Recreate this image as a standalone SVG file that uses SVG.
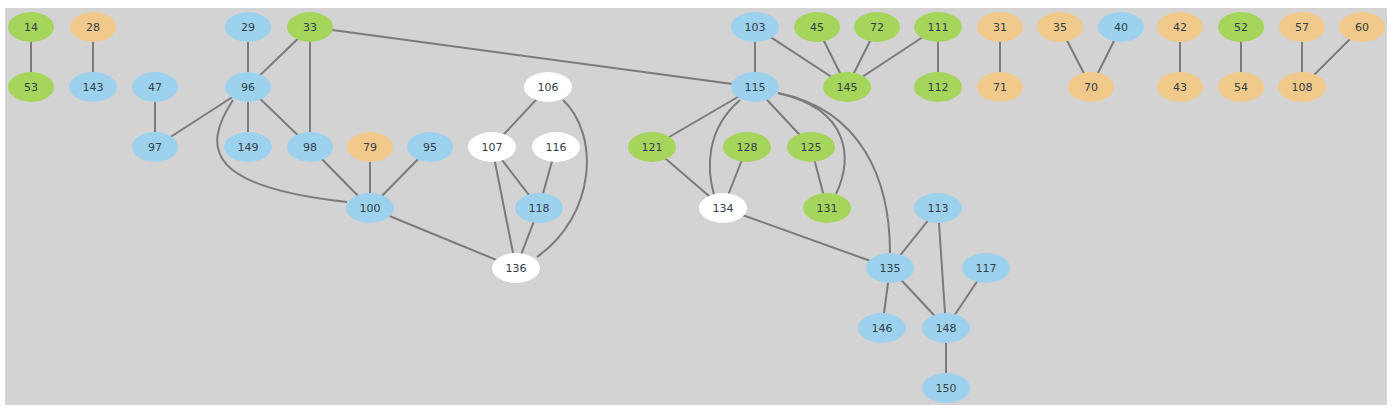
<svg xmlns="http://www.w3.org/2000/svg" width="1400" height="417" viewBox="0 0 1400 417">
<style>
.e{stroke:#7a7a7a;stroke-width:2;fill:none}
.n ellipse{stroke:none}
.g{fill:#a5d55b}.o{fill:#f1c98b}.b{fill:#9dd2ef}.w{fill:#ffffff}
text{font-family:"DejaVu Sans",Verdana,sans-serif;font-size:11px;fill:#333d48;text-anchor:middle;dominant-baseline:central}
</style>
<rect x="0" y="0" width="1400" height="417" fill="#ffffff"/>
<rect x="5" y="8" width="1382" height="397" fill="#d3d3d3"/>
<g id="edges">
<line class="e" x1="31" y1="27" x2="31" y2="87"/>
<line class="e" x1="93" y1="27" x2="93" y2="87"/>
<line class="e" x1="248" y1="27" x2="248" y2="87"/>
<line class="e" x1="310" y1="27" x2="248" y2="87"/>
<line class="e" x1="310" y1="27" x2="310" y2="147"/>
<line class="e" x1="310" y1="27" x2="755" y2="87"/>
<line class="e" x1="155" y1="87" x2="155" y2="147"/>
<line class="e" x1="248" y1="87" x2="155" y2="147"/>
<line class="e" x1="248" y1="87" x2="248" y2="147"/>
<line class="e" x1="248" y1="87" x2="310" y2="147"/>
<path class="e" d="M233,100 C200,150 210,187 347,202"/>
<line class="e" x1="310" y1="147" x2="370" y2="208"/>
<line class="e" x1="370" y1="147" x2="370" y2="208"/>
<line class="e" x1="430" y1="147" x2="370" y2="208"/>
<line class="e" x1="370" y1="208" x2="516" y2="268"/>
<line class="e" x1="548" y1="87" x2="492" y2="147"/>
<path class="e" d="M563,100 C600,135 596,215 537,257"/>
<line class="e" x1="492" y1="147" x2="539" y2="208"/>
<line class="e" x1="492" y1="147" x2="516" y2="268"/>
<line class="e" x1="556" y1="147" x2="539" y2="208"/>
<line class="e" x1="539" y1="208" x2="516" y2="268"/>
<line class="e" x1="755" y1="27" x2="755" y2="87"/>
<line class="e" x1="755" y1="27" x2="847" y2="87"/>
<line class="e" x1="817" y1="27" x2="847" y2="87"/>
<line class="e" x1="877" y1="27" x2="847" y2="87"/>
<line class="e" x1="938" y1="27" x2="847" y2="87"/>
<line class="e" x1="938" y1="27" x2="938" y2="87"/>
<line class="e" x1="755" y1="87" x2="652" y2="147"/>
<path class="e" d="M740,100 C705,130 707,170 714,195"/>
<line class="e" x1="755" y1="87" x2="811" y2="147"/>
<path class="e" d="M778,93 C852,110 852,160 836,194"/>
<path class="e" d="M778,93 C862,110 890,180 890,253"/>
<line class="e" x1="652" y1="147" x2="723" y2="208"/>
<line class="e" x1="747" y1="147" x2="723" y2="208"/>
<line class="e" x1="811" y1="147" x2="827" y2="208"/>
<line class="e" x1="723" y1="208" x2="890" y2="268"/>
<line class="e" x1="938" y1="208" x2="890" y2="268"/>
<line class="e" x1="938" y1="208" x2="946" y2="328"/>
<line class="e" x1="890" y1="268" x2="882" y2="328"/>
<line class="e" x1="890" y1="268" x2="946" y2="328"/>
<line class="e" x1="986" y1="268" x2="946" y2="328"/>
<line class="e" x1="946" y1="328" x2="946" y2="388"/>
<line class="e" x1="1000" y1="27" x2="1000" y2="87"/>
<line class="e" x1="1060" y1="27" x2="1091" y2="87"/>
<line class="e" x1="1121" y1="27" x2="1091" y2="87"/>
<line class="e" x1="1180" y1="27" x2="1180" y2="87"/>
<line class="e" x1="1241" y1="27" x2="1241" y2="87"/>
<line class="e" x1="1302" y1="27" x2="1302" y2="87"/>
<line class="e" x1="1362" y1="27" x2="1302" y2="87"/>
</g>
<g id="n14" class="n"><ellipse class="g" cx="31" cy="27" rx="23" ry="15"/><text x="31" y="27">14</text></g>
<g id="n28" class="n"><ellipse class="o" cx="93" cy="27" rx="23" ry="15"/><text x="93" y="27">28</text></g>
<g id="n29" class="n"><ellipse class="b" cx="248" cy="27" rx="23" ry="15"/><text x="248" y="27">29</text></g>
<g id="n33" class="n"><ellipse class="g" cx="310" cy="27" rx="23" ry="15"/><text x="310" y="27">33</text></g>
<g id="n53" class="n"><ellipse class="g" cx="31" cy="87" rx="23" ry="15"/><text x="31" y="87">53</text></g>
<g id="n143" class="n"><ellipse class="b" cx="93" cy="87" rx="24" ry="15"/><text x="93" y="87">143</text></g>
<g id="n47" class="n"><ellipse class="b" cx="155" cy="87" rx="23" ry="15"/><text x="155" y="87">47</text></g>
<g id="n96" class="n"><ellipse class="b" cx="248" cy="87" rx="23" ry="15"/><text x="248" y="87">96</text></g>
<g id="n97" class="n"><ellipse class="b" cx="155" cy="147" rx="23" ry="15"/><text x="155" y="147">97</text></g>
<g id="n149" class="n"><ellipse class="b" cx="248" cy="147" rx="24" ry="15"/><text x="248" y="147">149</text></g>
<g id="n98" class="n"><ellipse class="b" cx="310" cy="147" rx="23" ry="15"/><text x="310" y="147">98</text></g>
<g id="n79" class="n"><ellipse class="o" cx="370" cy="147" rx="23" ry="15"/><text x="370" y="147">79</text></g>
<g id="n95" class="n"><ellipse class="b" cx="430" cy="147" rx="23" ry="15"/><text x="430" y="147">95</text></g>
<g id="n100" class="n"><ellipse class="b" cx="370" cy="208" rx="24" ry="15"/><text x="370" y="208">100</text></g>
<g id="n106" class="n"><ellipse class="w" cx="548" cy="87" rx="24" ry="15"/><text x="548" y="87">106</text></g>
<g id="n107" class="n"><ellipse class="w" cx="492" cy="147" rx="24" ry="15"/><text x="492" y="147">107</text></g>
<g id="n116" class="n"><ellipse class="w" cx="556" cy="147" rx="24" ry="15"/><text x="556" y="147">116</text></g>
<g id="n118" class="n"><ellipse class="b" cx="539" cy="208" rx="24" ry="15"/><text x="539" y="208">118</text></g>
<g id="n136" class="n"><ellipse class="w" cx="516" cy="268" rx="24" ry="15"/><text x="516" y="268">136</text></g>
<g id="n103" class="n"><ellipse class="b" cx="755" cy="27" rx="24" ry="15"/><text x="755" y="27">103</text></g>
<g id="n45" class="n"><ellipse class="g" cx="817" cy="27" rx="23" ry="15"/><text x="817" y="27">45</text></g>
<g id="n72" class="n"><ellipse class="g" cx="877" cy="27" rx="23" ry="15"/><text x="877" y="27">72</text></g>
<g id="n111" class="n"><ellipse class="g" cx="938" cy="27" rx="24" ry="15"/><text x="938" y="27">111</text></g>
<g id="n31" class="n"><ellipse class="o" cx="1000" cy="27" rx="23" ry="15"/><text x="1000" y="27">31</text></g>
<g id="n35" class="n"><ellipse class="o" cx="1060" cy="27" rx="23" ry="15"/><text x="1060" y="27">35</text></g>
<g id="n40" class="n"><ellipse class="b" cx="1121" cy="27" rx="23" ry="15"/><text x="1121" y="27">40</text></g>
<g id="n42" class="n"><ellipse class="o" cx="1180" cy="27" rx="23" ry="15"/><text x="1180" y="27">42</text></g>
<g id="n52" class="n"><ellipse class="g" cx="1241" cy="27" rx="23" ry="15"/><text x="1241" y="27">52</text></g>
<g id="n57" class="n"><ellipse class="o" cx="1302" cy="27" rx="23" ry="15"/><text x="1302" y="27">57</text></g>
<g id="n60" class="n"><ellipse class="o" cx="1362" cy="27" rx="23" ry="15"/><text x="1362" y="27">60</text></g>
<g id="n115" class="n"><ellipse class="b" cx="755" cy="87" rx="24" ry="15"/><text x="755" y="87">115</text></g>
<g id="n145" class="n"><ellipse class="g" cx="847" cy="87" rx="24" ry="15"/><text x="847" y="87">145</text></g>
<g id="n112" class="n"><ellipse class="g" cx="938" cy="87" rx="24" ry="15"/><text x="938" y="87">112</text></g>
<g id="n71" class="n"><ellipse class="o" cx="1000" cy="87" rx="23" ry="15"/><text x="1000" y="87">71</text></g>
<g id="n70" class="n"><ellipse class="o" cx="1091" cy="87" rx="23" ry="15"/><text x="1091" y="87">70</text></g>
<g id="n43" class="n"><ellipse class="o" cx="1180" cy="87" rx="23" ry="15"/><text x="1180" y="87">43</text></g>
<g id="n54" class="n"><ellipse class="o" cx="1241" cy="87" rx="23" ry="15"/><text x="1241" y="87">54</text></g>
<g id="n108" class="n"><ellipse class="o" cx="1302" cy="87" rx="24" ry="15"/><text x="1302" y="87">108</text></g>
<g id="n121" class="n"><ellipse class="g" cx="652" cy="147" rx="24" ry="15"/><text x="652" y="147">121</text></g>
<g id="n128" class="n"><ellipse class="g" cx="747" cy="147" rx="24" ry="15"/><text x="747" y="147">128</text></g>
<g id="n125" class="n"><ellipse class="g" cx="811" cy="147" rx="24" ry="15"/><text x="811" y="147">125</text></g>
<g id="n134" class="n"><ellipse class="w" cx="723" cy="208" rx="24" ry="15"/><text x="723" y="208">134</text></g>
<g id="n131" class="n"><ellipse class="g" cx="827" cy="208" rx="24" ry="15"/><text x="827" y="208">131</text></g>
<g id="n113" class="n"><ellipse class="b" cx="938" cy="208" rx="24" ry="15"/><text x="938" y="208">113</text></g>
<g id="n135" class="n"><ellipse class="b" cx="890" cy="268" rx="24" ry="15"/><text x="890" y="268">135</text></g>
<g id="n117" class="n"><ellipse class="b" cx="986" cy="268" rx="24" ry="15"/><text x="986" y="268">117</text></g>
<g id="n146" class="n"><ellipse class="b" cx="882" cy="328" rx="24" ry="15"/><text x="882" y="328">146</text></g>
<g id="n148" class="n"><ellipse class="b" cx="946" cy="328" rx="24" ry="15"/><text x="946" y="328">148</text></g>
<g id="n150" class="n"><ellipse class="b" cx="946" cy="388" rx="24" ry="15"/><text x="946" y="388">150</text></g>
</svg>
